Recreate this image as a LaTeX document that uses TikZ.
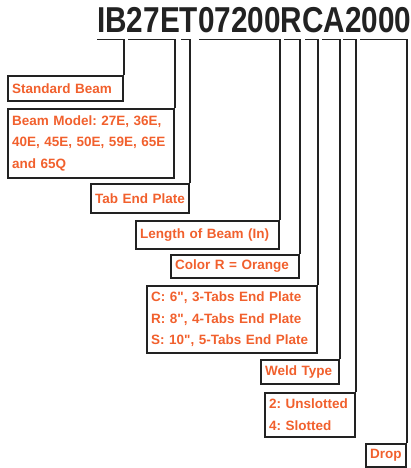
\documentclass[tikz,border=0pt]{standalone}
\usepackage{fontspec}
\setmainfont{Liberation Sans}
\usepackage{tikz}
\usetikzlibrary{positioning}
\definecolor{codeorange}{RGB}{241,96,45}
\definecolor{codegray}{RGB}{34,34,34}
\frenchspacing

\begin{document}
\begin{tikzpicture}[
        x=1pt, y=-1pt,
        label box/.style={draw=codegray, line width=1.6pt, anchor=north east,
            inner sep=4pt, align=left, text=codeorange,
            font=\fontsize{13.5}{21.5}\selectfont\bfseries},
        bracket/.style={draw=codegray, line width=1.6pt}
    ]
    \useasboundingbox (0,0) rectangle (410,468);

    % Define the bracket row under the code
    \def\bpos{39.5}

    % The product code
    \node[anchor=base west, inner sep=0pt, text=codegray,
        font=\fontsize{36}{36}\selectfont\bfseries] (code) at (97,33)
        {\scalebox{0.826}[1]{IB27ET07200RCA2000}};

    % Draw the label boxes (right edge lines up with its bracket)
    \node[label box, text width=107pt, minimum height=25pt] (std) at (124,75) {Standard Beam};
    \node[label box, text width=158pt, minimum height=69pt] (model) at (175,108)
        {Beam Model: 27E, 36E,\\40E, 45E, 50E, 59E, 65E\\and 65Q};
    \node[label box, text width=90pt, minimum height=29pt] (tab) at (190,183) {Tab End Plate};
    \node[label box, text width=135pt, minimum height=28pt] (length) at (280,220) {Length of Beam (In)};
    \node[label box, text width=120pt, minimum height=23pt] (color) at (300,254) {Color R = Orange};
    \node[label box, text width=162pt, minimum height=67pt] (plate) at (318,285)
        {C: 6\textquotedbl, 3-Tabs End Plate\\R: 8\textquotedbl, 4-Tabs End Plate\\S: 10\textquotedbl, 5-Tabs End Plate};
    \node[label box, text width=70pt, minimum height=24pt] (weld) at (340,359) {Weld Type};
    \node[label box, text width=82pt, minimum height=44pt] (slot) at (356,392)
        {2: Unslotted\\4: Slotted};
    \node[label box, text width=32pt, minimum height=23pt] (drop) at (407,443) {Drop};

    % Draw the brackets from the code down to each box
    \foreach \l/\b in {97/std, 128/model, 181/tab, 199/length, 284/color,
                       305/plate, 322/weld, 343/slot, 360/drop} {
        \coordinate (b\b) at (\l,\bpos);
        \draw[bracket] (b\b) -| (\b.north east);
    }

\end{tikzpicture}
\end{document}
